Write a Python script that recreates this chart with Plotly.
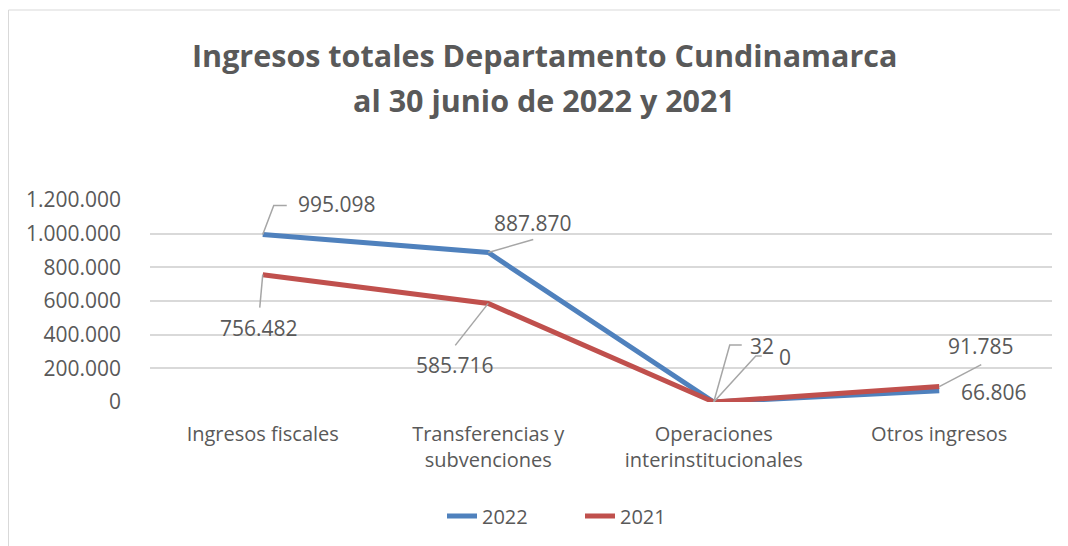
import plotly.graph_objects as go

categories = ["Ingresos fiscales", "Transferencias y<br>subvenciones",
              "Operaciones<br>interinstitucionales", "Otros ingresos"]
values_2022 = [995098, 887870, 32, 66806]
values_2021 = [756482, 585716, 0, 91785]
labels_2022 = ["995.098", "887.870", "32", "66.806"]
labels_2021 = ["756.482", "585.716", "0", "91.785"]
y_ticks = [0, 200000, 400000, 600000, 800000, 1000000, 1200000]

# the page body has an 8px margin, so the figure is made 8px smaller
OFF = 8
W, H = 1068 - OFF, 546 - OFF
L, R, T, B = 150 - OFF, 16, 200 - OFF, 144
PW, PH = W - L - R, H - T - B

def px(x):  # page pixel -> paper x
    return (x - OFF - L) / PW

def py(y):  # page pixel -> paper y
    return (H - B - (y - OFF)) / PH

BLUE = "#4F81BD"
RED = "#C0504D"
TXT = "#595959"
GRID = "#D9D9D9"
LEAD = "#A6A6A6"
FONT = "Open Sans"

fig = go.Figure()
fig.add_trace(go.Scatter(x=categories, y=values_2022, mode="lines", name="2022",
                         line=dict(color=BLUE, width=5)))
fig.add_trace(go.Scatter(x=categories, y=values_2021, mode="lines", name="2021",
                         line=dict(color=RED, width=5)))

# label offsets (pixels) and leader paths (pixels, relative to the point)
off_2022 = [dict(xs=33, ys=30, xa="left"), dict(xs=45, ys=30, xa="center"),
            dict(xs=48, ys=56, xa="center"), dict(xs=55, ys=-1, xa="center")]
lead_2022 = ["M0,0 L11,29 L24,29", "M0,0 L45,13", "M0,0 L16,57 L28,57", None]
off_2021 = [dict(xs=-4, ys=-53, xa="center"), dict(xs=-33, ys=-62, xa="center"),
            dict(xs=71, ys=45, xa="center"), dict(xs=42, ys=41, xa="center")]
lead_2021 = ["M0,0 L-3,-33", "M0,0 L-33,-42", "M0,0 L42,46 L48,46", "M0,0 L42,22"]

annotations = []
shapes = []
for vals, labs, offs, leads in [(values_2022, labels_2022, off_2022, lead_2022),
                                (values_2021, labels_2021, off_2021, lead_2021)]:
    for c, v, lab, o, ld in zip(categories, vals, labs, offs, leads):
        annotations.append(dict(x=c, y=v, xref="x", yref="y", text=lab, showarrow=False,
                                xshift=o["xs"], yshift=o["ys"], xanchor=o["xa"],
                                yanchor="middle", font=dict(family=FONT, size=21, color=TXT)))
        if ld:
            shapes.append(dict(type="path", xref="x", yref="y", xsizemode="pixel",
                               ysizemode="pixel", xanchor=c, yanchor=v, path=ld,
                               line=dict(color=LEAD, width=1.5)))

annotations.append(dict(x=px(544), y=py(55), xref="paper", yref="paper", showarrow=False,
                        text="<b>Ingresos totales Departamento Cundinamarca</b>",
                        xanchor="center", yanchor="middle",
                        font=dict(family=FONT, size=30.5, color=TXT)))
annotations.append(dict(x=px(544), y=py(100), xref="paper", yref="paper", showarrow=False,
                        text="<b>al 30 junio de 2022 y 2021</b>",
                        xanchor="center", yanchor="middle",
                        font=dict(family=FONT, size=30.5, color=TXT)))

shapes.append(dict(type="rect", xref="paper", yref="paper", x0=px(8.5), x1=px(1090),
                   y0=py(570), y1=py(10), line=dict(color=GRID, width=1),
                   fillcolor="rgba(0,0,0,0)", layer="below"))

fig.update_layout(
    width=W, height=H, margin=dict(l=L, r=R, t=T, b=B, autoexpand=False),
    paper_bgcolor="white", plot_bgcolor="white",
    separators=",.",
    showlegend=True,
    legend=dict(orientation="h", x=px(442), y=py(516), xanchor="left", yanchor="middle",
                font=dict(family=FONT, size=20, color=TXT), entrywidth=93,
                entrywidthmode="pixels"),
    annotations=annotations, shapes=shapes,
    font=dict(family=FONT, color=TXT),
)
fig.update_xaxes(type="category", range=[-0.5, 3.5], showgrid=False, showline=False,
                 zeroline=False, ticks="", ticklabelstandoff=18, automargin=False,
                 tickfont=dict(family=FONT, size=20, color=TXT))
fig.update_yaxes(range=[0, 1200000], tickvals=y_ticks, tickformat=",.0f",
                 showgrid=True, gridcolor=GRID, gridwidth=1.5, zeroline=False,
                 showline=False, ticks="", ticklabelstandoff=28, automargin=False,
                 tickfont=dict(family=FONT, size=21, color=TXT))

fig.write_html("out.html")
